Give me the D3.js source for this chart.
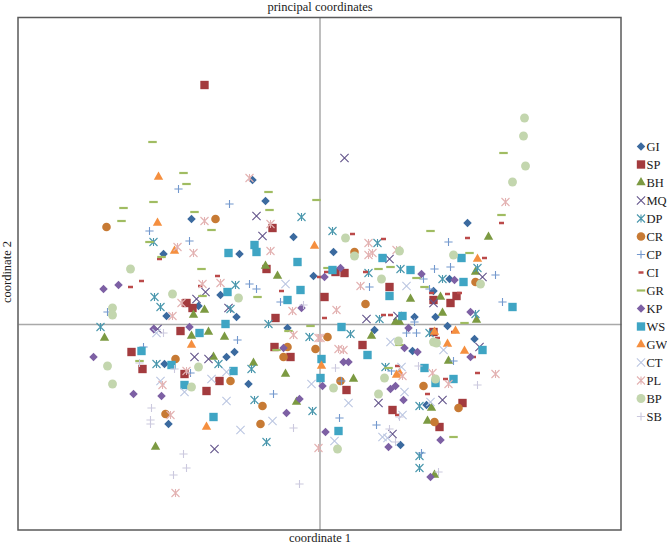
<!DOCTYPE html>
<html><head><meta charset="utf-8">
<script src="https://cdn.jsdelivr.net/npm/d3@7"></script>
<style>html,body{margin:0;background:#fff}svg{display:block}text{font-family:"Liberation Serif",serif;fill:#1a1a1a}</style>
</head><body><div id="c"></div>
<script>
const title="principal coordinates", xTitle="coordinate 1", yTitle="coordinate 2";
const names=["GI","SP","BH","MQ","DP","CR","CP","CI","GR","KP","WS","GW","CT","PL","BP","SB"];
const GI=[[-67,144],[-54,123],[-128,105],[-26,87],[-80,70],[-156,70],[-6,48],[-99,29],[-121,18],[-153,8],[-83,7],[-32,-4],[14,72],[148,101],[114,33],[130,45],[116,7],[95,7],[55,-6],[128,-2],[155,-15],[93,-27],[107,-81],[81,-121],[-155,-40],[-93,-33],[-85,-28],[-71,-60],[-151,-100]];
const SP=[[-115,239],[-47,96],[-53,55],[-133,21],[-127,16],[-44,6],[-139,-7],[25,51],[16,52],[70,37],[5,27],[114,24],[137,28],[131,21],[114,-8],[-188,-28],[-177,-45],[-135,-50],[-100,-57],[-113,-67],[-45,-23],[-29,-33],[43,-21],[27,-66],[73,-86],[143,-79],[120,-103]];
const BH=[[-54,58],[-42,48],[-115,14],[-126,9],[-128,-12],[-111,-8],[-95,-13],[-215,-14],[169,87],[156,52],[91,25],[121,27],[123,11],[157,4],[76,2],[80,2],[52,-12],[-106,-33],[-66,-39],[-34,-50],[-23,-78],[-164,-123],[129,-37],[34,-55],[112,-84],[108,-97],[115,-151]];
const MQ=[[-63,108],[-57,88],[25,166],[-114,32],[-123,25],[-91,16],[-162,-5],[70,65],[163,47],[114,21],[78,8],[47,5],[-125,-33],[-111,-35],[-105,-125],[160,-23],[59,-79],[123,-76],[73,-110]];
const DP=[[-18,107],[-166,82],[13,93],[58,81],[158,56],[-84,39],[-165,27],[-159,17],[-89,15],[-51,0],[-219,-3],[-10,-13],[49,51],[81,55],[123,45],[156,10],[60,5],[31,-10],[-163,-40],[-101,-40],[-68,-45],[-65,-76],[-7,-87],[-53,-118],[66,-43],[100,-82],[100,-132],[100,-144],[110,-9]];
const CR=[[-213,97],[-104,105],[35,72],[156,42],[46,20],[8,-13],[-144,-35],[-154,-90],[-89,-57],[-57,-82],[-59,-100],[-32,-23],[-36,-33],[-4,-25],[21,-57],[104,-62],[139,-84],[115,-98]];
const CP=[[-141,135],[-90,120],[-170,93],[-130,83],[129,82],[131,57],[115,55],[-70,40],[-63,35],[-39,22],[-212,12],[-82,-16],[176,49],[104,45],[50,37],[110,35],[183,22],[87,-9],[97,-9],[95,2],[-176,-23],[-129,-49],[-46,-70],[134,-37],[72,-47],[22,-57],[20,-94],[57,-101],[102,-129]];
const CI=[[-160,65],[33,90],[64,85],[148,86],[182,101],[165,66],[-102,48],[-178,43],[-189,37],[-38,33],[-119,38],[0,47],[7,52],[46,52],[128,30],[112,31],[140,31],[5,6],[64,9],[71,9],[118,-14],[134,-8],[158,-49],[78,-42],[126,-55],[108,-70],[78,-91],[154,-33]];
const GR=[[-167,182],[-136,151],[-133,140],[-166,122],[-196,116],[-198,103],[-125,112],[-108,94],[-51,132],[-50,114],[-3,124],[-118,55],[-170,82],[-158,67],[184,171],[182,109],[111,93],[150,71],[71,57],[59,55],[8,56],[97,46],[105,37],[145,1],[-117,28],[-62,27],[-180,-37],[-9,-2],[-31,-7],[-43,-26],[69,-44],[134,-113],[80,-21]];
const KP=[[-216,35],[-201,39],[-130,-3],[-166,-5],[-18,16],[5,47],[21,56],[102,50],[135,44],[151,12],[89,-4],[-226,-33],[-186,-70],[-158,-72],[-36,-24],[-33,-89],[-20,-75],[85,-24],[98,-28],[24,-38],[29,-38],[3,-62],[71,-65],[76,-62],[84,-76],[6,-108],[69,-123],[121,-116],[111,-153],[151,-33]];
const WS=[[-65,79],[-63,72],[-91,71],[-22,62],[63,66],[142,66],[13,54],[91,54],[-19,34],[-92,32],[-32,24],[-94,0],[-120,-9],[144,42],[70,28],[193,17],[83,8],[22,-3],[-178,-27],[-148,-41],[-86,-47],[-135,-61],[-106,-93],[2,-35],[1,-54],[48,-31],[163,-26],[105,-44],[134,-55],[116,-59],[19,-107]];
const GW=[[-161,147],[-162,101],[-145,73],[-5,78],[158,65],[115,-8],[136,-7],[-128,-21],[-113,-103],[128,-20],[145,-27],[2,-42],[77,-51],[80,-49]];
const CT=[[-34,40],[-163,-9],[-108,-55],[-93,-48],[-159,-57],[-135,-68],[-93,-77],[-79,-106],[-47,-97],[-8,-60],[87,38],[71,-18],[124,-26],[82,-43],[85,-68],[29,-79],[111,-78],[83,-91],[15,-117],[63,-113],[68,-114]];
const PL=[[-70,146],[-49,100],[-115,103],[-49,73],[-142,77],[-126,71],[186,122],[49,81],[49,69],[53,71],[77,74],[-117,40],[-99,41],[-138,21],[-147,8],[-27,13],[-26,-11],[-157,-61],[-149,-91],[-133,-47],[-1,-14],[-144,-169],[-1,-124],[41,38],[17,14],[1,-14],[19,-25],[24,-26],[113,-49],[129,-60],[176,-50],[83,-52]];
const BP=[[205,206],[204,188],[206,158],[193,142],[26,86],[35,68],[80,73],[134,69],[-189,55],[-207,16],[-207,9],[-147,30],[-81,26],[62,45],[161,40],[-212,-42],[-207,-60],[-121,-43],[-128,-63],[79,-17],[114,-18],[117,-19],[65,-54],[116,-55],[59,-70],[14,-64],[18,-125]];
const SB=[[-156,-9],[-180,-39],[-145,-45],[-168,-84],[-169,-96],[-169,-100],[-136,-130],[-133,-144],[-146,-151],[-26,-104],[-20,-160],[-16,19],[16,-44],[99,-42],[158,-61],[80,-93],[70,-105],[76,-118],[119,-148]];
const values=[GI,SP,BH,MQ,DP,CR,CP,CI,GR,KP,WS,GW,CT,PL,BP,SB];
const colors=["#3b6a9f","#a33b3e","#7c9a42","#65568c","#4a97ad","#c77a34","#7398cd","#bb4a4a","#a0bc62","#7d60a4","#3fa5c4","#f58f3f","#bcc7e2","#e3b2b2","#c3d6ae","#cbc9de"];

const dash=(w,h)=>({draw(c){c.rect(-w/2,-h/2,w,h);}});
const star={draw(c){const r=4;c.moveTo(-r,-r);c.lineTo(r,r);c.moveTo(r,-r);c.lineTo(-r,r);c.moveTo(0,-r);c.lineTo(0,r);}};
const shapes=[d3.symbolDiamond2,d3.symbolSquare,d3.symbolTriangle,d3.symbolTimes,star,d3.symbolCircle,d3.symbolPlus,dash(5,2.5),dash(8.5,2.2),d3.symbolDiamond2,d3.symbolSquare,d3.symbolTriangle,d3.symbolTimes,star,d3.symbolCircle,d3.symbolPlus];
const sizes=[46,70,38,46,1,58,24,1,1,46,70,38,46,1,62,24];
const stroked=new Set([3,4,6,12,13,15]);

const W=667,H=546,L=18,R=621,T=17.5,B=530;
const x=d3.scaleLinear().domain([-301.5,301.5]).range([L,R]);
const y=d3.scaleLinear().domain([-206,306.5]).range([B,T]);
const svg=d3.select("#c").append("svg").attr("width",W).attr("height",H);

svg.append("g").attr("transform",`translate(0,${y(0)})`).call(d3.axisBottom(x).tickValues([]).tickSizeOuter(0))
  .select(".domain").attr("stroke","#a9a9a9").attr("stroke-width",1.5);
svg.append("g").attr("transform",`translate(${x(0)},0)`).call(d3.axisLeft(y).tickValues([]).tickSizeOuter(0))
  .select(".domain").attr("stroke","#a9a9a9").attr("stroke-width",1.5);
svg.append("rect").attr("x",L).attr("y",T).attr("width",R-L).attr("height",B-T)
  .attr("fill","none").attr("stroke","#5a5a5a").attr("stroke-width",1.5);

function mark(sel,i){
  sel.attr("d",d3.symbol().type(shapes[i]).size(sizes[i])());
  if(stroked.has(i)) sel.attr("fill","none").attr("stroke",colors[i]).attr("stroke-width",1.1);
  else sel.attr("fill",colors[i]);
}
values.forEach((vals,i)=>{
  svg.append("g").selectAll("path").data(vals).join("path")
    .attr("transform",d=>`translate(${x(d[0])},${y(d[1])})`).call(mark,i);
});

const leg=d3.scalePoint().domain(names).range([146.5,416.5]);
names.forEach((n,i)=>{
  svg.append("path").attr("transform",`translate(641,${leg(n)})`).call(mark,i);
  svg.append("text").attr("x",646.5).attr("y",leg(n)+4.3).attr("font-size",12.5).text(n);
});
svg.append("text").attr("x",320).attr("y",11).attr("text-anchor","middle").attr("font-size",12.5).text(title);
svg.append("text").attr("x",320).attr("y",542).attr("text-anchor","middle").attr("font-size",12.5).text(xTitle);
svg.append("text").attr("transform","translate(11,272) rotate(-90)").attr("text-anchor","middle").attr("font-size",12.5).text(yTitle);
</script></body></html>
